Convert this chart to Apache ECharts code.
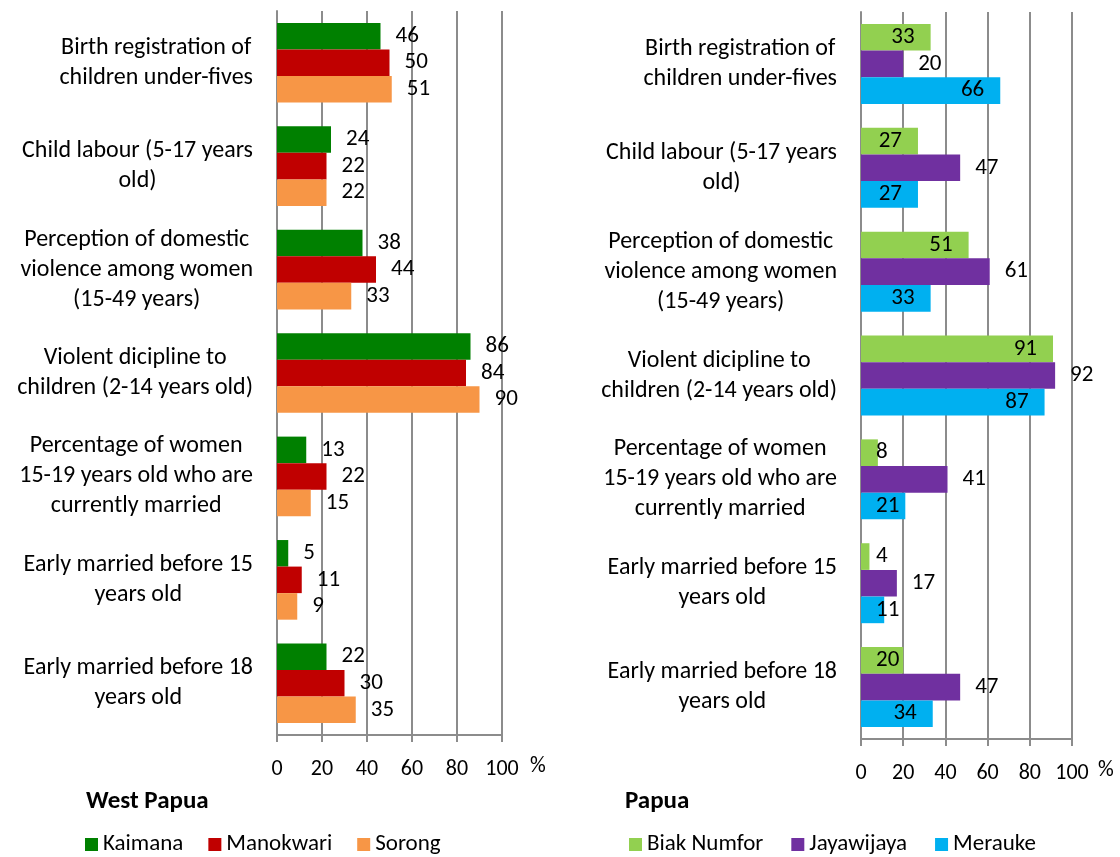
<!DOCTYPE html>
<html>
<head>
<meta charset="utf-8">
<title>West Papua / Papua</title>
<script src="https://cdn.jsdelivr.net/npm/echarts@6/dist/echarts.min.js"></script>
<style>
  html, body { margin: 0; padding: 0; background: #fff; }
  #chart { width: 1120px; height: 857px; }
</style>
</head>
<body>
<div id="chart"></div>
<script>
// categories, top to bottom
var categories = [
    'Birth registration of\nchildren under-fives',
    'Child labour (5-17 years\nold)',
    'Perception of domestic\nviolence among women\n(15-49 years)',
    'Violent dicipline to\nchildren (2-14 years old)',
    'Percentage of women\n15-19 years old who are\ncurrently married',
    'Early married before 15\nyears old',
    'Early married before 18\nyears old'
];
var xTicks = [0, 20, 40, 60, 80, 100];

// West Papua
var kaimana   = [46, 24, 38, 86, 13, 5, 22];
var manokwari = [50, 22, 44, 84, 22, 11, 30];
var sorong    = [51, 22, 33, 90, 15, 9, 35];

// Papua
var biakNumfor = [33, 27, 51, 91, 8, 4, 20];
var jayawijaya = [20, 47, 61, 92, 41, 17, 47];
var merauke    = [66, 27, 33, 87, 21, 11, 34];

var FONT = 'Carlito, Calibri, Lato, sans-serif';
var GRAY = '#8c8c8c';

function catAxis(gridIndex) {
    return {
        type: 'category',
        gridIndex: gridIndex,
        data: categories,
        inverse: true,
        axisLine: { lineStyle: { color: GRAY, width: 2 } },
        axisTick: { length: 8, lineStyle: { color: GRAY, width: 2 } },
        axisLabel: {
            margin: 24,
            formatter: function (v) {
                return v.split('\n').map(function (s) { return '{c|' + s + '}'; }).join('\n');
            },
            rich: {
                c: { align: 'center', fontSize: 24, lineHeight: 30, fontFamily: FONT, color: '#000' }
            }
        }
    };
}

function valAxis(gridIndex, gap) {
    return {
        type: 'value',
        gridIndex: gridIndex,
        min: xTicks[0],
        max: xTicks[xTicks.length - 1],
        interval: xTicks[1] - xTicks[0],
        name: '%',
        nameLocation: 'end',
        nameGap: gap,
        nameTextStyle: { fontSize: 22, fontFamily: FONT, color: '#000', verticalAlign: 'top', lineHeight: 62 },
        axisLine: { show: true, lineStyle: { color: GRAY, width: 2 } },
        axisTick: { show: true, length: 7, lineStyle: { color: GRAY, width: 2 } },
        axisLabel: { margin: 23, fontSize: 22, fontFamily: FONT, color: '#000' },
        splitLine: { show: true, lineStyle: { color: GRAY, width: 2 } }
    };
}

function barSeries(name, values, color, idx, inside) {
    var data = values.map(function (v) {
        if (!inside) return v;
        // short bars: Excel pushes the label to the start of the bar
        var small = (v < 10 && v < 20) || (v >= 10 && v < 26);
        return { value: v, label: { position: small ? 'insideLeft' : 'insideRight', distance: small ? 15 : 16 } };
    });
    return {
        name: name,
        type: 'bar',
        xAxisIndex: idx,
        yAxisIndex: idx,
        data: data,
        barGap: 0,
        barCategoryGap: '23%',
        itemStyle: { color: color },
        label: {
            show: true,
            position: inside ? 'insideRight' : 'right',
            distance: 15,
            fontSize: 23,
            fontFamily: FONT,
            color: '#000'
        }
    };
}

var option = {
    backgroundColor: '#fff',
    animation: false,
    title: [
        { text: 'West Papua', left: 86, top: 789, padding: 0,
          textStyle: { fontSize: 25, fontWeight: 'bold', fontFamily: FONT, color: '#000' } },
        { text: 'Papua', left: 625, top: 789, padding: 0,
          textStyle: { fontSize: 25, fontWeight: 'bold', fontFamily: FONT, color: '#000' } }
    ],
    legend: [
        { data: ['Kaimana', 'Manokwari', 'Sorong'], left: 85, top: 833, padding: 0,
          icon: 'rect', itemWidth: 13, itemHeight: 13, itemGap: 25,
          textStyle: { fontSize: 23, fontFamily: FONT, color: '#000' } },
        { data: ['Biak Numfor', 'Jayawijaya', 'Merauke'], left: 629, top: 833, padding: 0,
          icon: 'rect', itemWidth: 13, itemHeight: 13, itemGap: 28,
          textStyle: { fontSize: 23, fontFamily: FONT, color: '#000' } }
    ],
    grid: [
        { left: 277, top: 11, width: 225, height: 724 },
        { left: 861, top: 12, width: 211, height: 727 }
    ],
    xAxis: [valAxis(0, 28), valAxis(1, 26)],
    yAxis: [catAxis(0), catAxis(1)],
    series: [
        barSeries('Kaimana', kaimana, '#008000', 0, false),
        barSeries('Manokwari', manokwari, '#c00000', 0, false),
        barSeries('Sorong', sorong, '#f79646', 0, false),
        barSeries('Biak Numfor', biakNumfor, '#92d050', 1, true),
        barSeries('Jayawijaya', jayawijaya, '#7030a0', 1, false),
        barSeries('Merauke', merauke, '#00b0f0', 1, true)
    ]
};

var myChart = echarts.init(document.getElementById('chart'));
myChart.setOption(option);
</script>
</body>
</html>
